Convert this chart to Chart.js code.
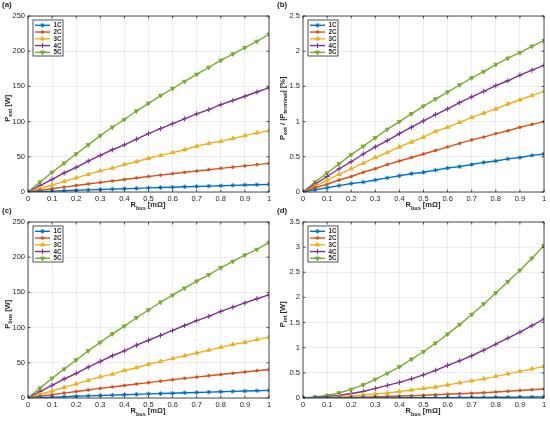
<!DOCTYPE html>
<html>
<head>
<meta charset="utf-8">
<script src="https://cdn.jsdelivr.net/npm/chart.js@4/dist/chart.umd.min.js"></script>
<style>
  body { margin: 0; width: 550px; height: 422px; background: #fff; position: relative; overflow: hidden;
         font-family: "Liberation Sans", Arial, sans-serif; color: #262626; }
  .panel { position: absolute; width: 275px; height: 211px; }
  .panel canvas { position: absolute; left: 0; top: 0; }
  .tag { position: absolute; left: 2px; top: 0px; font-size: 8px; font-weight: bold; }
  .xt { position: absolute; left: 48px; width: 200px; top: 200px; text-align: center; font-size: 7.5px; font-weight: bold; }
  .yt { position: absolute; left: -92px; width: 200px; top: 103px; text-align: center; font-size: 7.5px; font-weight: bold;
        transform: rotate(-90deg); white-space: nowrap; }
  sub { font-size: 5.5px; }
</style>
</head>
<body>

<div class="panel" style="left:0;top:0"><canvas id="pa" width="275" height="211"></canvas>
  <div class="tag">(a)</div>
  <div class="yt">P<sub>ext</sub> [W]</div>
  <div class="xt">R<sub>bus</sub> [mΩ]</div>
</div>
<div class="panel" style="left:275px;top:0"><canvas id="pb" width="275" height="211"></canvas>
  <div class="tag">(b)</div>
  <div class="yt">P<sub>ext</sub> / |P<sub>terminal</sub>| [%]</div>
  <div class="xt">R<sub>bus</sub> [mΩ]</div>
</div>
<div class="panel" style="left:0;top:206px"><canvas id="pc" width="275" height="211"></canvas>
  <div class="tag">(c)</div>
  <div class="yt">P<sub>bus</sub> [W]</div>
  <div class="xt">R<sub>bus</sub> [mΩ]</div>
</div>
<div class="panel" style="left:275px;top:206px"><canvas id="pd" width="275" height="211"></canvas>
  <div class="tag">(d)</div>
  <div class="yt">P<sub>int</sub> [W]</div>
  <div class="xt">R<sub>bus</sub> [mΩ]</div>
</div>

<script>
// ---------- data
const rBus = [0, 0.05, 0.1, 0.15, 0.2, 0.25, 0.3, 0.35, 0.4, 0.45, 0.5, 0.55, 0.6, 0.65, 0.7, 0.75, 0.8, 0.85, 0.9, 0.95, 1];
const cRates = ['1C', '2C', '3C', '4C', '5C'];

// (a) P_ext [W]
const pExt1C = [0, 0.6, 1.2, 1.8, 2.4, 3.0, 3.6, 4.1, 4.7, 5.2, 5.8, 6.3, 6.8, 7.4, 7.9, 8.4, 8.9, 9.4, 9.9, 10.4, 10.9];
const pExt2C = [0, 2.4, 4.7, 7.0, 9.2, 11.4, 13.6, 15.7, 17.8, 19.9, 22.0, 24.0, 26.0, 28.0, 29.8, 31.7, 33.5, 35.3, 37.1, 38.9, 40.6];
const pExt3C = [0, 5, 10, 15, 20, 25, 30, 34, 39, 43, 48, 52, 56, 60, 65, 69, 72, 76, 80, 84, 87];
const pExt4C = [0, 9, 18, 27, 35, 44, 52, 60, 67, 75, 83, 90, 97, 104, 111, 117, 124, 130, 136, 142, 148];
const pExt5C = [0, 14, 28, 41, 54, 67, 80, 92, 103, 115, 126, 137, 147, 157, 167, 177, 187, 196, 205, 214, 224];

// (b) P_ext / |P_terminal| [%]
const pPct1C = [0, 0.03, 0.06, 0.09, 0.12, 0.14, 0.17, 0.20, 0.23, 0.26, 0.28, 0.31, 0.34, 0.36, 0.39, 0.42, 0.44, 0.47, 0.49, 0.52, 0.54];
const pPct2C = [0, 0.06, 0.11, 0.17, 0.22, 0.28, 0.33, 0.39, 0.44, 0.49, 0.54, 0.59, 0.64, 0.69, 0.74, 0.78, 0.83, 0.87, 0.92, 0.96, 1.0];
const pPct3C = [0, 0.08, 0.17, 0.25, 0.33, 0.41, 0.49, 0.56, 0.64, 0.71, 0.78, 0.86, 0.92, 0.99, 1.06, 1.12, 1.18, 1.25, 1.31, 1.37, 1.43];
const pPct4C = [0, 0.11, 0.22, 0.33, 0.43, 0.54, 0.64, 0.73, 0.83, 0.92, 1.01, 1.10, 1.18, 1.27, 1.35, 1.43, 1.51, 1.58, 1.66, 1.73, 1.80];
const pPct5C = [0, 0.14, 0.27, 0.40, 0.53, 0.65, 0.77, 0.89, 1.00, 1.11, 1.22, 1.32, 1.42, 1.52, 1.62, 1.71, 1.81, 1.90, 1.98, 2.07, 2.15];

// (c) P_bus [W]
const pBus1C = [0, 0.6, 1.2, 1.8, 2.4, 3.0, 3.6, 4.1, 4.7, 5.2, 5.8, 6.3, 6.8, 7.4, 7.9, 8.4, 8.9, 9.4, 9.9, 10.4, 10.9];
const pBus2C = [0, 2.4, 4.7, 7.0, 9.2, 11.4, 13.6, 15.7, 17.8, 19.9, 21.9, 23.9, 25.9, 27.9, 29.7, 31.6, 33.4, 35.2, 37.0, 38.7, 40.4];
const pBus3C = [0, 5, 10, 15, 20, 25, 30, 34, 39, 43, 48, 52, 56, 60, 64, 68, 72, 76, 79, 83, 86.5];
const pBus4C = [0, 9, 18, 27, 35, 44, 52, 60, 67, 75, 82, 89, 96, 103, 110, 116, 123, 129, 135, 141, 146.5];
const pBus5C = [0, 14, 28, 41, 54, 67, 79, 91, 102, 114, 125, 136, 146, 156, 166, 175, 185, 194, 203, 211, 221];

// (d) P_int [W]
const pInt1C = [0, 0, 0, 0, 0.001, 0.001, 0.002, 0.003, 0.004, 0.005, 0.006, 0.007, 0.008, 0.009, 0.011, 0.012, 0.014, 0.016, 0.018, 0.02, 0.022];
const pInt2C = [0, 0.002, 0.004, 0.007, 0.011, 0.017, 0.024, 0.03, 0.04, 0.045, 0.055, 0.065, 0.075, 0.085, 0.095, 0.105, 0.12, 0.135, 0.15, 0.165, 0.18];
const pInt3C = [0, 0.005, 0.013, 0.025, 0.04, 0.06, 0.08, 0.10, 0.13, 0.16, 0.19, 0.22, 0.26, 0.30, 0.34, 0.38, 0.43, 0.48, 0.53, 0.58, 0.63];
const pInt4C = [0, 0.01, 0.03, 0.05, 0.09, 0.13, 0.19, 0.25, 0.31, 0.38, 0.46, 0.55, 0.65, 0.74, 0.84, 0.95, 1.07, 1.19, 1.31, 1.44, 1.57];
const pInt5C = [0, 0.02, 0.05, 0.10, 0.17, 0.26, 0.37, 0.49, 0.62, 0.77, 0.92, 1.09, 1.27, 1.46, 1.66, 1.87, 2.09, 2.31, 2.54, 2.78, 3.03];

// ---------- style
const colors = ['#0072BD', '#D95319', '#EDB120', '#7E2F8E', '#77AC30'];
const markers = [
  { style: 'star', r: 2.2, rot: 0 },
  { style: 'circle', r: 1.3, rot: 0 },
  { style: 'triangle', r: 2.4, rot: 0 },
  { style: 'cross', r: 2.6, rot: 0 },
  { style: 'triangle', r: 2.4, rot: 180 }
];

// box, inward ticks and legend (MATLAB look)
const boxPlugin = {
  id: 'box',
  afterDatasetsDraw(chart) {
    const ctx = chart.ctx, a = chart.chartArea;
    ctx.save();
    ctx.strokeStyle = '#262626';
    ctx.lineWidth = 0.8;
    ctx.strokeRect(a.left, a.top, a.right - a.left, a.bottom - a.top);
    ctx.beginPath();
    chart.scales.x.ticks.forEach(t => {
      const px = chart.scales.x.getPixelForValue(t.value);
      ctx.moveTo(px, a.bottom); ctx.lineTo(px, a.bottom - 2.5);
      ctx.moveTo(px, a.top); ctx.lineTo(px, a.top + 2.5);
    });
    chart.scales.y.ticks.forEach(t => {
      const py = chart.scales.y.getPixelForValue(t.value);
      ctx.moveTo(a.left, py); ctx.lineTo(a.left + 2.5, py);
      ctx.moveTo(a.right, py); ctx.lineTo(a.right - 2.5, py);
    });
    ctx.stroke();

    // legend
    const x0 = a.left + 5, y0 = a.top + 4, w = 30, h = 36;
    ctx.fillStyle = '#fff';
    ctx.fillRect(x0, y0, w, h);
    ctx.strokeStyle = '#262626';
    ctx.strokeRect(x0, y0, w, h);
    ctx.font = 'bold 6.3px "Liberation Sans", Arial, sans-serif';
    ctx.textBaseline = 'middle';
    cRates.forEach((name, i) => {
      const y = y0 + 5.3 + i * 6.75;
      ctx.strokeStyle = colors[i];
      ctx.lineWidth = 1.4;
      ctx.beginPath(); ctx.moveTo(x0 + 2, y); ctx.lineTo(x0 + 17, y); ctx.stroke();
      const m = markers[i];
      ctx.fillStyle = colors[i];
      ctx.lineWidth = 1;
      if (Chart.helpers && Chart.helpers.drawPoint) {
        Chart.helpers.drawPoint(ctx, { pointStyle: m.style, radius: m.r, rotation: m.rot, borderWidth: 1 }, x0 + 9.5, y);
        ctx.fill();
      }
      ctx.fillStyle = '#262626';
      ctx.fillText(name, x0 + 20.5, y + 0.3);
    });
    ctx.restore();
  }
};

function makePanel(id, series, yMax, yStep) {
  const datasets = series.map((vals, i) => ({
    label: cRates[i],
    data: rBus.map((x, j) => ({ x: x, y: vals[j] })),
    borderColor: colors[i],
    backgroundColor: colors[i],
    borderWidth: 1.4,
    pointStyle: markers[i].style,
    pointRadius: markers[i].r,
    pointRotation: markers[i].rot,
    pointBorderWidth: 1,
    tension: 0
  }));

  new Chart(document.getElementById(id), {
    type: 'line',
    data: { datasets: datasets },
    options: {
      responsive: false,
      animation: false,
      events: [],
      layout: { padding: { left: 0, right: 6, top: 16, bottom: 0 } },
      plugins: { legend: { display: false }, tooltip: { enabled: false } },
      scales: {
        x: {
          type: 'linear', min: 0, max: 1,
          afterFit: s => { s.height = 19; },
          ticks: { stepSize: 0.1, color: '#262626', padding: 2, maxRotation: 0,
                   callback: v => String(Math.round(v * 10) / 10),
                   font: { size: 7.5, family: '"Liberation Sans", Arial, sans-serif' } },
          grid: { color: '#e3e3e3', drawTicks: false, lineWidth: 0.6 },
          border: { display: false }
        },
        y: {
          min: 0, max: yMax,
          afterFit: s => { s.width = 28; },
          ticks: { stepSize: yStep, color: '#262626', padding: 3,
                   callback: v => String(Math.round(v * 10) / 10),
                   font: { size: 7.5, family: '"Liberation Sans", Arial, sans-serif' } },
          grid: { color: '#e3e3e3', drawTicks: false, lineWidth: 0.6 },
          border: { display: false }
        }
      }
    },
    plugins: [boxPlugin]
  });
}

makePanel('pa', [pExt1C, pExt2C, pExt3C, pExt4C, pExt5C], 250, 50);
makePanel('pb', [pPct1C, pPct2C, pPct3C, pPct4C, pPct5C], 2.5, 0.5);
makePanel('pc', [pBus1C, pBus2C, pBus3C, pBus4C, pBus5C], 250, 50);
makePanel('pd', [pInt1C, pInt2C, pInt3C, pInt4C, pInt5C], 3.5, 0.5);
</script>
</body>
</html>
